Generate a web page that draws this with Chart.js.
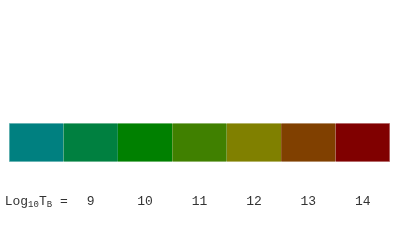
<!DOCTYPE html>
<html>
<head>
<meta charset="utf-8">
<script src="https://cdn.jsdelivr.net/npm/chart.js@4"></script>
<style>
    html, body { margin: 0; padding: 0; background: #fff; }
    #wrap { width: 400px; height: 247px; }
</style>
</head>
<body>
<div id="wrap"><canvas id="colorBar"></canvas></div>
<script>
// one bar segment per class, the first one carries the "Log10 TB =" caption
const categories = ['Log10 TB =', '9', '10', '11', '12', '13', '14'];
const values = [1, 1, 1, 1, 1, 1, 1];
const segmentColors = [
    'rgb(0, 128, 128)',
    'rgb(0, 128, 64)',
    'rgb(0, 128, 0)',
    'rgb(64, 128, 0)',
    'rgb(128, 128, 0)',
    'rgb(128, 64, 0)',
    'rgb(128, 0, 0)'
];

const FONT = "'Liberation Mono', 'Courier New', monospace";

// draws the first tick label with its subscripts
const captionPlugin = {
    id: 'caption',
    afterDraw(chart) {
        const ctx = chart.ctx;
        const xScale = chart.scales.x;
        const cx = xScale.getPixelForTick(0);
        const y = 202;
        const parts = [
            { text: 'Log', size: 13, dy: 0 },
            { text: '10', size: 9, dy: 3 },
            { text: 'T', size: 13, dy: 0 },
            { text: 'B', size: 9, dy: 3 },
            { text: ' =', size: 13, dy: 0 }
        ];

        ctx.save();
        ctx.fillStyle = '#333';
        ctx.textBaseline = 'middle';
        ctx.textAlign = 'left';
        let total = 0;
        parts.forEach(p => {
            ctx.font = p.size + 'px ' + FONT;
            total += ctx.measureText(p.text).width;
        });
        let x = cx - total / 2;
        parts.forEach(p => {
            ctx.font = p.size + 'px ' + FONT;
            ctx.fillText(p.text, x, y + p.dy);
            x += ctx.measureText(p.text).width;
        });
        ctx.restore();
    }
};

new Chart(document.getElementById('colorBar'), {
    type: 'bar',
    data: {
        labels: categories,
        datasets: [{
            data: values,
            backgroundColor: segmentColors,
            borderColor: segmentColors.map(c => c.replace('rgb', 'rgba').replace(')', ', 0.45)')),
            borderWidth: context => ({
                top: 1,
                bottom: 1,
                left: context.dataIndex === 0 ? 1 : 0,
                right: context.dataIndex === values.length - 1 ? 1 : 0
            }),
            borderSkipped: false,
            barPercentage: 1,
            categoryPercentage: 1
        }]
    },
    options: {
        responsive: true,
        maintainAspectRatio: false,
        animation: false,
        events: [],
        layout: {
            padding: { top: 123, left: 9, right: 10, bottom: 0 }
        },
        plugins: {
            legend: { display: false },
            tooltip: { enabled: false }
        },
        scales: {
            x: {
                grid: { display: false, drawTicks: true, tickLength: 32 },
                border: { display: false },
                afterFit: scale => { scale.height = 85; },
                ticks: {
                    padding: 0,
                    color: '#333',
                    font: { family: FONT, size: 13 },
                    maxRotation: 0,
                    autoSkip: false,
                    callback: (value, index) => index === 0 ? '' : categories[index]
                }
            },
            y: {
                display: false,
                min: 0,
                max: 1
            }
        }
    },
    plugins: [captionPlugin]
});
</script>
</body>
</html>
